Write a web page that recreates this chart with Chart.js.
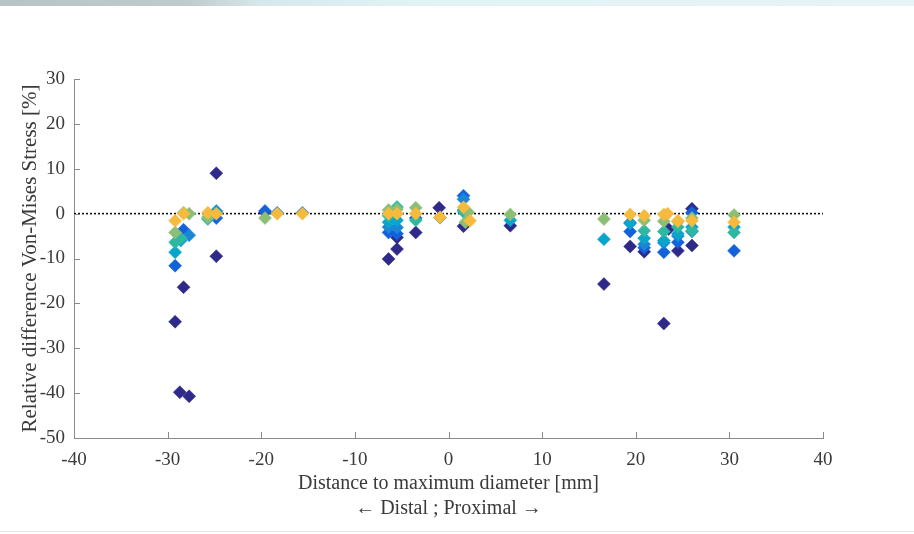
<!DOCTYPE html>
<html><head><meta charset="utf-8">
<script src="https://cdn.jsdelivr.net/npm/chart.js@4.4.1/dist/chart.umd.min.js"></script>
<style>
html,body{margin:0;padding:0;background:#fff;}
#wrap{position:relative;width:914px;height:534px;overflow:hidden;background:#fff;}
#topband{position:absolute;left:0;top:0;width:914px;height:6px;background:linear-gradient(to right,#b7c4c6 0,#bfcccd 190px,#d6e8ec 260px,#e2f3f6 420px,#e4f4f7 100%);}
#botline{position:absolute;left:0;top:531px;width:914px;height:1px;background:#e6e6e6;}
canvas{position:absolute;left:0;top:0;}
</style></head><body>
<div id="wrap"><div id="topband"></div><div id="botline"></div><canvas id="c" width="914" height="534"></canvas></div>
<script>
// ---- data (x = distance [mm], y = relative difference [%]) ----
const xTicks = [-40,-30,-20,-10,0,10,20,30,40];
const yTicks = [-50,-40,-30,-20,-10,0,10,20,30];
const zeroLine = [[-40,0],[40,0]];

const navyPts = [[-29.2,-24.1],[-28.7,-39.8],[-28.3,-16.4],[-27.7,-40.7],[-24.8,9.0],[-24.8,-9.5],[-19.6,0.3],
  [-6.4,-10.1],[-5.5,-7.9],[-5.5,-5.3],[-3.5,-4.2],[-1.0,1.3],[1.6,-2.8],[6.6,-2.7],
  [16.6,-15.7],[19.4,-7.3],[20.9,-8.5],[23.0,-24.5],[23.5,-3.4],[24.5,-8.3],[26.0,1.1],[26.0,-7.1]];
const bluePts = [[-29.2,-11.6],[-28.3,-3.6],[-24.8,-1.0],[-19.6,0.6],[-6.4,-4.2],[-5.5,-4.5],[-3.5,-1.0],[1.6,4.0],
  [19.4,-4.0],[20.9,-7.6],[23.0,-8.6],[24.5,-6.4],[26.0,0.2],[30.5,-8.3]];
const lightBluePts = [[-27.7,-4.8],[-24.8,0.6],[-18.3,0.2],[-15.6,0.2],[-6.4,-3.0],[-5.5,-3.1],[1.6,3.2],
  [19.4,-2.0],[20.9,-6.8],[23.0,-6.5],[24.5,-5.0],[26.0,-4.0]];
const cyanPts = [[-29.2,-8.6],[-28.6,-6.0],[-24.8,0.3],[-6.4,-1.9],[-5.5,-1.5],[-0.9,-0.9],[1.6,0.8],[6.6,-1.5],
  [16.6,-5.7],[19.4,-2.2],[20.9,-5.5],[23.0,-6.0],[24.5,-4.5],[26.0,-3.0],[30.5,-3.0]];
const tealPts = [[-29.2,-6.4],[-28.6,-5.5],[-25.7,-1.2],[-6.4,-0.5],[-5.5,1.5],[-3.5,-1.5],[1.6,0.4],
  [20.9,-3.8],[23.0,-4.0],[24.5,-3.0],[26.0,-3.8],[30.5,-4.2]];
const greenPts = [[-29.2,-4.2],[-28.3,0.2],[-27.7,0.0],[-25.7,-0.8],[-19.6,-1.0],[-6.4,0.8],[-5.5,1.0],[-3.5,1.3],
  [2.1,0.3],[1.8,-1.9],[6.6,-0.2],[16.6,-1.2],[20.9,-1.5],[23.0,-1.7],[24.5,-1.8],[26.0,-1.0],[30.5,-0.3]];
const orangePts = [[-29.2,-1.6],[-28.3,0.0],[-25.7,0.2],[-24.8,0.0],[-18.3,0.0],[-15.6,0.0],[-6.4,0.0],[-5.5,0.0],
  [-3.5,0.0],[-0.9,-0.8],[1.6,1.4],[2.3,-1.6],[19.4,-0.2],[20.9,-0.5],[23.0,-0.2],[23.4,0.0],[24.5,-1.6],[26.0,-1.6],[30.5,-1.9]];

const seriesData = [navyPts, bluePts, lightBluePts, cyanPts, tealPts, greenPts, orangePts];
const seriesColors = ['#2f2a8a','#1262dc','#1a86d6','#0aa5cb','#2eb8a2','#8cbf76','#f6ba3c'];

const FONT = 'Liberation Serif';
const TXT = '#3a3a3a';
const AX = '#8a8a8a';
const toPts = arr => arr.map(p => ({x:p[0], y:p[1]}));

const datasets = [{
  type:'line', data: toPts(zeroLine), borderColor:'#111', borderWidth:1.6, borderDash:[2,2],
  pointRadius:0, fill:false, order:20
}];
seriesData.forEach((arr,i) => {
  datasets.push({
    type:'scatter', data: toPts(arr), pointStyle:'rectRot', pointRadius:6.5,
    backgroundColor: seriesColors[i], borderColor: seriesColors[i], borderWidth:0.5,
    order: 10 - i
  });
});

const inwardTicks = {
  id:'inwardTicks',
  afterDraw(chart){
    const {ctx, chartArea:a, scales:{x,y}} = chart;
    ctx.save(); ctx.strokeStyle = AX; ctx.lineWidth = 1; ctx.beginPath();
    x.ticks.forEach(t => { const px = Math.round(x.getPixelForValue(t.value)) + 0.5; ctx.moveTo(px, a.bottom); ctx.lineTo(px, a.bottom - 6); });
    y.ticks.forEach(t => { const py = Math.round(y.getPixelForValue(t.value)) + 0.5; ctx.moveTo(a.left, py); ctx.lineTo(a.left + 6, py); });
    ctx.stroke(); ctx.restore();
  }
};

new Chart(document.getElementById('c'), {
  data: { datasets },
  options: {
    responsive:false, animation:false, devicePixelRatio:1,
    layout:{ padding:{ left:0, top:79, right:91, bottom:0 } },
    plugins:{ legend:{display:false}, tooltip:{enabled:false} },
    scales:{
      x:{
        type:'linear', min:-40, max:40,
        afterBuildTicks: s => { s.ticks = xTicks.map(v => ({value:v})); },
        afterFit: s => { s.height = 534 - 438; },
        grid:{ drawOnChartArea:false, drawTicks:false },
        border:{ display:true, color:AX, width:1 },
        ticks:{ color:TXT, font:{family:FONT, size:19}, padding:11, maxRotation:0, autoSkip:false },
        title:{ display:true, text:['Distance to maximum diameter [mm]','\u2190 Distal ; Proximal \u2192'],
          color:TXT, font:{family:FONT, size:20, lineHeight:1.25}, padding:{top:0, bottom:13} }
      },
      y:{
        type:'linear', min:-50, max:30,
        afterBuildTicks: s => { s.ticks = yTicks.map(v => ({value:v})); },
        afterFit: s => { s.width = 74; },
        grid:{ drawOnChartArea:false, drawTicks:false },
        border:{ display:true, color:AX, width:1 },
        ticks:{ color:TXT, font:{family:FONT, size:19}, padding:9, autoSkip:false },
        title:{ display:true, text:'Relative difference Von-Mises Stress [%]',
          color:TXT, font:{family:FONT, size:21, lineHeight:1.25}, padding:{top:17, bottom:0} }
      }
    }
  },
  plugins:[inwardTicks]
});
</script>
</body></html>
